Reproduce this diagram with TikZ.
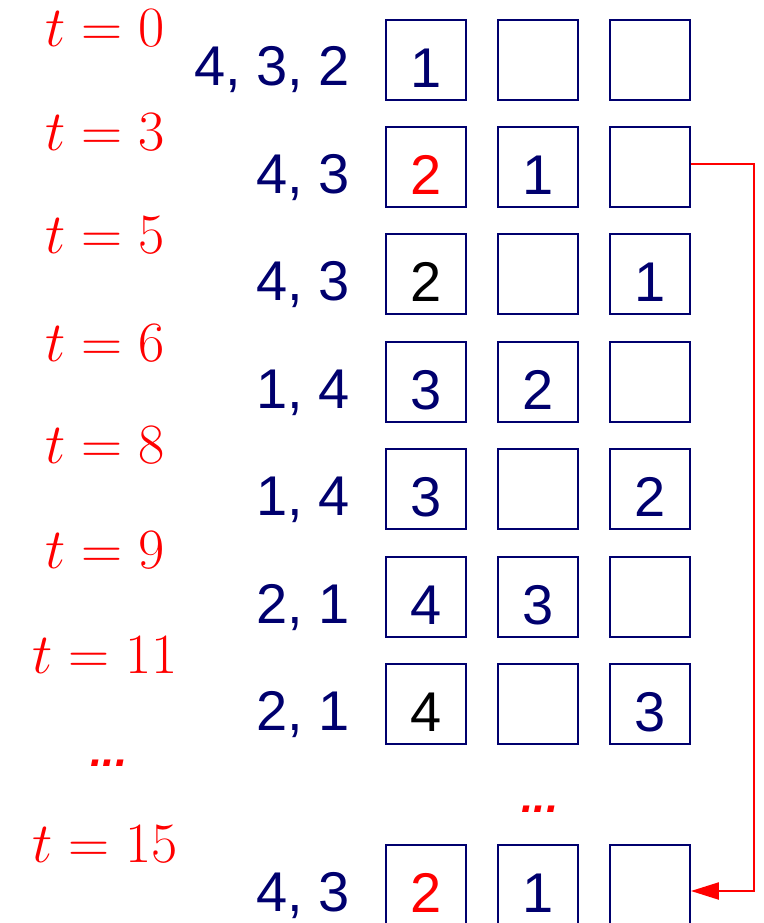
\documentclass[tikz,border=0pt]{standalone}
\usepackage{fix-cm}
\usepackage{fontspec}
\setmainfont{Liberation Sans}
\usetikzlibrary{arrows.meta}
\definecolor{navy}{RGB}{0,0,110}
\begin{document}
\begin{tikzpicture}[x=1pt,y=-1pt,
  cell/.style={draw=navy, line width=1.8pt, minimum width=80pt, minimum height=80pt,
    inner sep=0pt, text height=55pt, text depth=0pt, text=navy,
    font=\fontsize{56}{60}\selectfont},
  queue/.style={anchor=base east, inner sep=0pt, text=navy, font=\fontsize{56}{60}\selectfont},
  time/.style={anchor=base, inner sep=0pt, text=red, font=\fontsize{57}{60}\selectfont},
  dots/.style={anchor=base, inner sep=0pt, text=red, font=\fontsize{44}{48}\selectfont\bfseries\itshape},
  jump/.style={draw=red, line width=2.2pt, -{Triangle[length=28pt,width=17pt]}}]
\useasboundingbox (0,0) rectangle (763,923);
\clip (0,0) rectangle (763,923);

% time labels
\node[time] (t1) at (105,47)  {$t=0$};
\node[time] (t2) at (105,150) {$t=3$};
\node[time] (t3) at (105,253) {$t=5$};
\node[time] (t4) at (105,361) {$t=6$};
\node[time] (t5) at (105,463) {$t=8$};
\node[time] (t6) at (105,568) {$t=9$};
\node[time] (t7) at (105,673) {$t=11$};
\node[dots] (td) at (109,766) {...};
\node[time] (t8) at (105,862) {$t=15$};

% queue labels
\node[queue] (q1) at (350,86)  {4, 3, 2};
\node[queue] (q2) at (350,193) {4, 3};
\node[queue] (q3) at (350,300) {4, 3};
\node[queue] (q4) at (350,408) {1, 4};
\node[queue] (q5) at (350,515) {1, 4};
\node[queue] (q6) at (350,623) {2, 1};
\node[queue] (q7) at (350,730) {2, 1};
\node[queue] (q8) at (350,911) {4, 3};

% cells: row 1
\node[cell] (b11) at (426,60) {1};
\node[cell] (b12) at (538,60) {};
\node[cell] (b13) at (650,60) {};
% row 2
\node[cell, text=red] (b21) at (426,167) {2};
\node[cell] (b22) at (538,167) {1};
\node[cell] (b23) at (650,167) {};
% row 3
\node[cell, text=black] (b31) at (426,274) {2};
\node[cell] (b32) at (538,274) {};
\node[cell] (b33) at (650,274) {1};
% row 4
\node[cell] (b41) at (426,382) {3};
\node[cell] (b42) at (538,382) {2};
\node[cell] (b43) at (650,382) {};
% row 5
\node[cell] (b51) at (426,489) {3};
\node[cell] (b52) at (538,489) {};
\node[cell] (b53) at (650,489) {2};
% row 6
\node[cell] (b61) at (426,597) {4};
\node[cell] (b62) at (538,597) {3};
\node[cell] (b63) at (650,597) {};
% row 7
\node[cell, text=black] (b71) at (426,704) {4};
\node[cell] (b72) at (538,704) {};
\node[cell] (b73) at (650,704) {3};
% middle dots
\node[dots] (md) at (540,812) {...};
% row 8
\node[cell, text=red] (b81) at (426,885) {2};
\node[cell] (b82) at (538,885) {1};
\node[cell] (b83) at (650,885) {};

% red jump arrow
\coordinate (rail) at (754,0);
\draw[jump] ([yshift=3pt]b23.east) -- ([yshift=3pt]b23.east -| rail) |- ([yshift=-6pt]b83.east);
\end{tikzpicture}
\end{document}
